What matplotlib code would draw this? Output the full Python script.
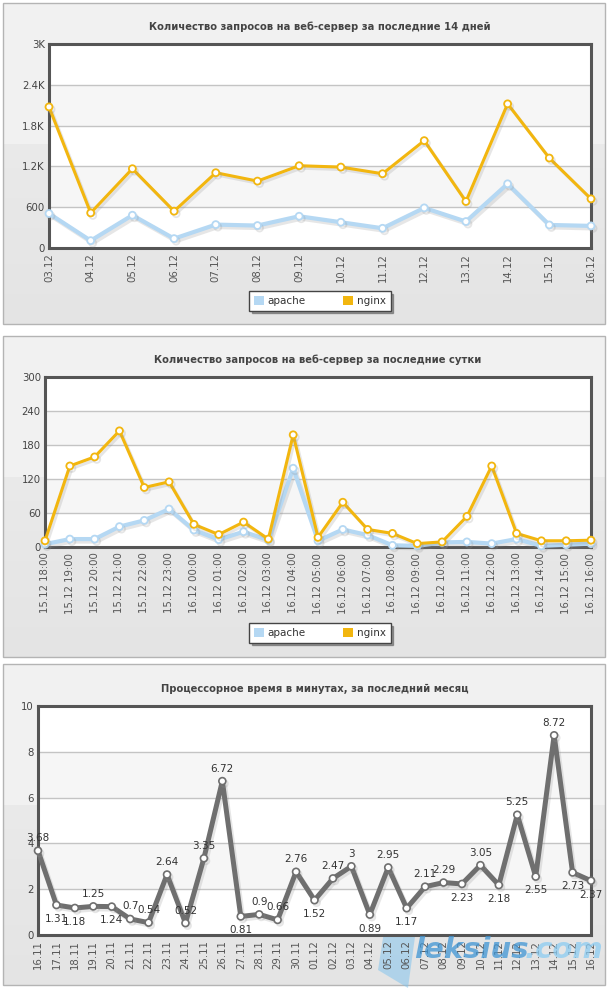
import matplotlib
matplotlib.use('Agg')
import matplotlib.pyplot as plt
import matplotlib.patheffects as pe
from matplotlib.patches import Rectangle, Patch, Polygon
from matplotlib.ticker import FuncFormatter
import numpy as np

plt.rcParams['font.family'] = 'DejaVu Sans'

# --- data ---
days14 = ['03.12', '04.12', '05.12', '06.12', '07.12', '08.12', '09.12',
          '10.12', '11.12', '12.12', '13.12', '14.12', '15.12', '16.12']
apache14 = [507, 108, 482, 138, 344, 330, 467, 379, 290, 590, 389, 944, 339, 325]
nginx14 = [2075, 516, 1166, 541, 1107, 984, 1210, 1190, 1092, 1579, 684, 2120, 1323, 723]

hours = ['15.12 18:00', '15.12 19:00', '15.12 20:00', '15.12 21:00', '15.12 22:00',
         '15.12 23:00', '16.12 00:00', '16.12 01:00', '16.12 02:00', '16.12 03:00',
         '16.12 04:00', '16.12 05:00', '16.12 06:00', '16.12 07:00', '16.12 08:00',
         '16.12 09:00', '16.12 10:00', '16.12 11:00', '16.12 12:00', '16.12 13:00',
         '16.12 14:00', '16.12 15:00', '16.12 16:00']
apache24 = [5, 14, 14, 36, 47, 67, 30, 13, 27, 12, 139, 11, 31, 21, 3, 2, 8, 9, 6, 14, 2, 4, 6]
nginx24 = [11, 143, 159, 205, 105, 115, 40, 22, 44, 14, 198, 17, 79, 31, 24, 6, 9, 54, 143, 24, 11, 11, 12]

days31 = ['16.11', '17.11', '18.11', '19.11', '20.11', '21.11', '22.11', '23.11',
          '24.11', '25.11', '26.11', '27.11', '28.11', '29.11', '30.11', '01.12',
          '02.12', '03.12', '04.12', '05.12', '06.12', '07.12', '08.12', '09.12',
          '10.12', '11.12', '12.12', '13.12', '14.12', '15.12', '16.12']
cpu = [3.68, 1.31, 1.18, 1.25, 1.24, 0.7, 0.54, 2.64, 0.52, 3.35, 6.72, 0.81, 0.9,
       0.66, 2.76, 1.52, 2.47, 3, 0.89, 2.95, 1.17, 2.11, 2.29, 2.23, 3.05, 2.18,
       5.25, 2.55, 8.72, 2.73, 2.37]

W, H = 608, 988
APACHE = '#b5d8f3'
NGINX = '#f2b60f'
CPU = '#6f6f6f'

fig = plt.figure(figsize=(W / 100, H / 100), dpi=100, facecolor='white')

# background layer in pixel coords
bg = fig.add_axes([0, 0, 1, 1], zorder=-10)
bg.set_xlim(0, W)
bg.set_ylim(H, 0)
bg.axis('off')


def panel_bg(y0, y1):
    split = y0 + 0.44 * (y1 - y0)
    bg.add_patch(Rectangle((3, y0), 602, split - y0, facecolor='#f1f1f1', edgecolor='none'))
    n = 30
    hs = (y1 - split) / n
    for i in range(n):
        c = 0.914 - 0.022 * i / n
        bg.add_patch(Rectangle((3, split + i * hs), 602, hs + 0.5, facecolor=(c, c, c),
                               edgecolor='none'))
    bg.add_patch(Rectangle((3, y0), 602, y1 - y0, facecolor='none', edgecolor='#b4b4b4', lw=1))


def make_ax(x0, y0, x1, y1):
    return fig.add_axes([x0 / W, 1 - y1 / H, (x1 - x0) / W, (y1 - y0) / H])


shadow = [pe.SimpleLineShadow(offset=(1.5, -1.8), shadow_color='#909090', alpha=0.22),
          pe.Normal()]


def style_ax(ax, ymax, step, labels, title, fmt=None):
    ax.set_facecolor('white')
    for i, y in enumerate(np.arange(0, ymax, step)):
        if i % 2 == 1:
            ax.axhspan(y, y + step, color='#f6f6f6', zorder=0, lw=0)
    for y in np.arange(step, ymax, step):
        ax.axhline(y, color='#c4c4c4', lw=1, zorder=1)
    ax.set_ylim(0, ymax)
    ax.set_yticks(np.arange(0, ymax + step / 2, step))
    if fmt:
        ax.yaxis.set_major_formatter(FuncFormatter(fmt))
    ax.set_xlim(0, len(labels) - 1)
    ax.set_xticks(range(len(labels)))
    ax.set_xticklabels(labels, rotation=90)
    ax.tick_params(length=0, labelsize=7.3, colors='#444444', pad=3)
    ax.tick_params(axis='x', colors='#555555', pad=4)
    for s in ax.spines.values():
        s.set_color('#555555')
        s.set_linewidth(2.2)
    ax.set_title(title, fontsize=7.2, fontweight='bold', color='#444444', pad=10)


def kfmt(v, p):
    if v >= 1000:
        return '{:g}K'.format(v / 1000)
    return '{:g}'.format(v)


def add_legend(ax, y_center):
    handles = [Patch(facecolor=APACHE, edgecolor='none', label='apache'),
               Patch(facecolor=NGINX, edgecolor='none', label='nginx')]
    leg = fig.legend(handles=handles, loc='center', bbox_to_anchor=(320 / W, 1 - y_center / H),
                     ncol=2, frameon=True, fancybox=False, shadow=True, fontsize=7.5,
                     handlelength=0.9, handleheight=0.9, handletextpad=0.4,
                     columnspacing=3.6, borderpad=0.45, labelcolor='#333333')
    fr = leg.get_frame()
    fr.set_edgecolor('#444444')
    fr.set_linewidth(1)


# --- panel 1 ---
panel_bg(3, 324)
ax1 = make_ax(49, 44, 591, 248)
style_ax(ax1, 3000, 600, days14, 'Количество запросов на веб-сервер за последние 14 дней', kfmt)
x = range(len(days14))
ax1.plot(x, apache14, color=APACHE, lw=3, marker='o', ms=5, mfc='white', mec=APACHE,
         mew=1.3, zorder=3, path_effects=shadow, clip_on=False)
ax1.plot(x, nginx14, color=NGINX, lw=2.2, marker='o', ms=5, mfc='white', mec=NGINX,
         mew=1.3, zorder=4, path_effects=shadow, clip_on=False)
add_legend(ax1, 301)

# --- panel 2 ---
panel_bg(336, 657)
ax2 = make_ax(45, 377, 591, 547)
style_ax(ax2, 300, 60, hours, 'Количество запросов на веб-сервер за последние сутки')
x = range(len(hours))
ax2.plot(x, apache24, color=APACHE, lw=3, marker='o', ms=5, mfc='white', mec=APACHE,
         mew=1.3, zorder=3, path_effects=shadow, clip_on=False)
ax2.plot(x, nginx24, color=NGINX, lw=2.2, marker='o', ms=5, mfc='white', mec=NGINX,
         mew=1.3, zorder=4, path_effects=shadow, clip_on=False)
add_legend(ax2, 633)

# --- panel 3 ---
panel_bg(664, 985)
ax3 = make_ax(38, 706, 591, 935)
style_ax(ax3, 10, 2, days31, 'Процессорное время в минутах, за последний месяц')
x = range(len(days31))
ax3.plot(x, cpu, color=CPU, lw=3.6, marker='o', ms=5, mfc='white', mec=CPU,
         mew=1.2, zorder=4, path_effects=shadow, clip_on=False)
for i, v in enumerate(cpu):
    below = i > 0 and v < cpu[i - 1] and v > 0.75
    ax3.annotate('{:g}'.format(v), (i, v), xytext=(0, -10 if below else 9),
                 textcoords='offset points', ha='center', va='center',
                 fontsize=7.5, color='#333333', zorder=6, annotation_clip=False)

# watermark
bg.add_patch(Polygon([(392, 880), (420, 900), (408, 988), (378, 970)], closed=True,
                     facecolor='#7cc2ee', edgecolor='none', alpha=0.5, zorder=5))
wm = fig.add_axes([0, 0, 1, 1], zorder=20)
wm.set_xlim(0, W)
wm.set_ylim(H, 0)
wm.axis('off')
wm.text(414, 950, 'leksius', fontsize=21, fontweight='bold', style='italic',
        color='#3f95d4', alpha=0.75, va='center', ha='left')
wm.text(603, 950, '.com', fontsize=21, fontweight='bold', style='italic',
        color='#8cccf2', alpha=0.75, va='center', ha='right')

fig.savefig('out.png', dpi=100, facecolor='white')
